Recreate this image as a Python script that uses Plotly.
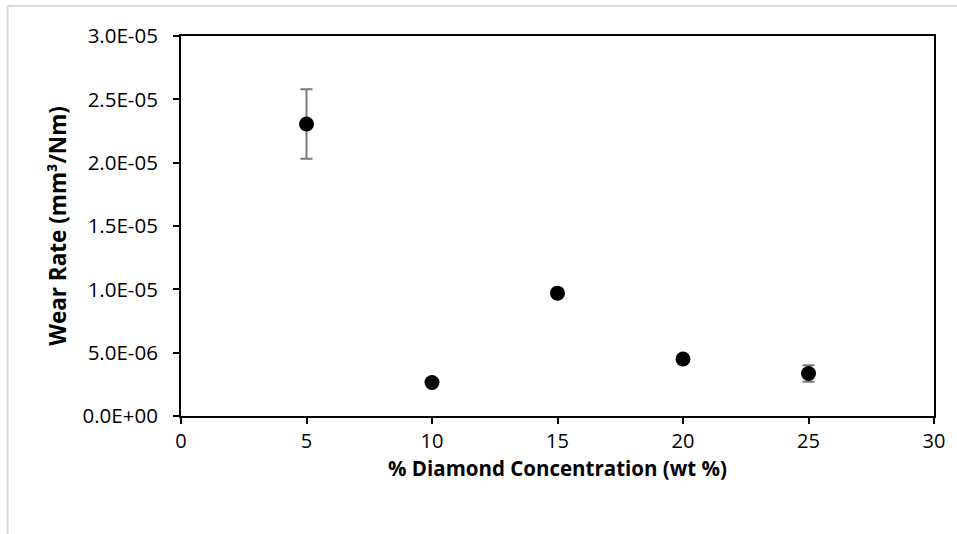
import plotly.graph_objects as go

concentration = [5, 10, 15, 20, 25]
wear_rate = [2.305e-5, 2.65e-6, 9.7e-6, 4.5e-6, 3.35e-6]
wear_err = [2.75e-6, 1.0e-7, 1.0e-7, 1.0e-7, 6.5e-7]

y_tickvals = [0, 5e-6, 1e-5, 1.5e-5, 2e-5, 2.5e-5, 3e-5]
y_ticktext = ["0.0E+00", "5.0E-06", "1.0E-05", "1.5E-05", "2.0E-05", "2.5E-05", "3.0E-05"]
x_tickvals = [0, 5, 10, 15, 20, 25, 30]

W, H = 957, 534
L, R, T, B = 181, 20, 36, 118
pw, ph = W - L - R, H - T - B

def px(x):
    return (x - L) / pw

def py(y):
    return (H - B - y) / ph

fig = go.Figure()
fig.add_trace(go.Scatter(
    x=concentration, y=wear_rate, mode="markers",
    marker=dict(size=15, color="black"),
    error_y=dict(type="data", array=wear_err, visible=True,
                 color="#7a7a7a", thickness=2, width=6),
    showlegend=False,
))

font_family = "Open Sans, Liberation Sans, sans-serif"
fig.update_layout(
    width=W, height=H,
    margin=dict(l=L, r=R, t=T, b=B),
    paper_bgcolor="white", plot_bgcolor="white",
    font=dict(family=font_family, color="black", size=20),
    xaxis=dict(
        range=[0, 30], tickvals=x_tickvals, showgrid=False, zeroline=False,
        showline=True, linecolor="black", linewidth=2, mirror=True,
        ticks="outside", ticklen=6, tickcolor="black", tickwidth=1.5,
        tickfont=dict(size=20, family=font_family, color="black"),
        title=dict(text="% Diamond Concentration (wt %)",
                   font=dict(size=20.5, family=font_family, weight="bold", color="black"), standoff=8),
    ),
    yaxis=dict(
        range=[0, 3e-5], tickvals=y_tickvals, ticktext=y_ticktext,
        showgrid=False, zeroline=False,
        showline=True, linecolor="black", linewidth=2, mirror=True,
        ticks="outside", ticklen=6, tickcolor="black", tickwidth=1.5,
        ticklabelstandoff=11,
        tickfont=dict(size=20.5, family=font_family, color="black"),
        title=dict(text="Wear Rate (mm³/Nm)",
                   font=dict(size=22.5, family=font_family, weight="bold", color="black"), standoff=10),
    ),
    shapes=[
        dict(type="line", xref="paper", yref="paper",
             x0=px(7), x1=px(7), y0=py(6), y1=py(560),
             line=dict(color="#d9d9d9", width=2)),
        dict(type="line", xref="paper", yref="paper",
             x0=px(7), x1=px(980), y0=py(6), y1=py(6),
             line=dict(color="#d9d9d9", width=2)),
    ],
)

fig.write_html("out.html", config={"displayModeBar": False},
               post_script="document.body.style.margin='0';document.body.style.overflow='hidden';")
